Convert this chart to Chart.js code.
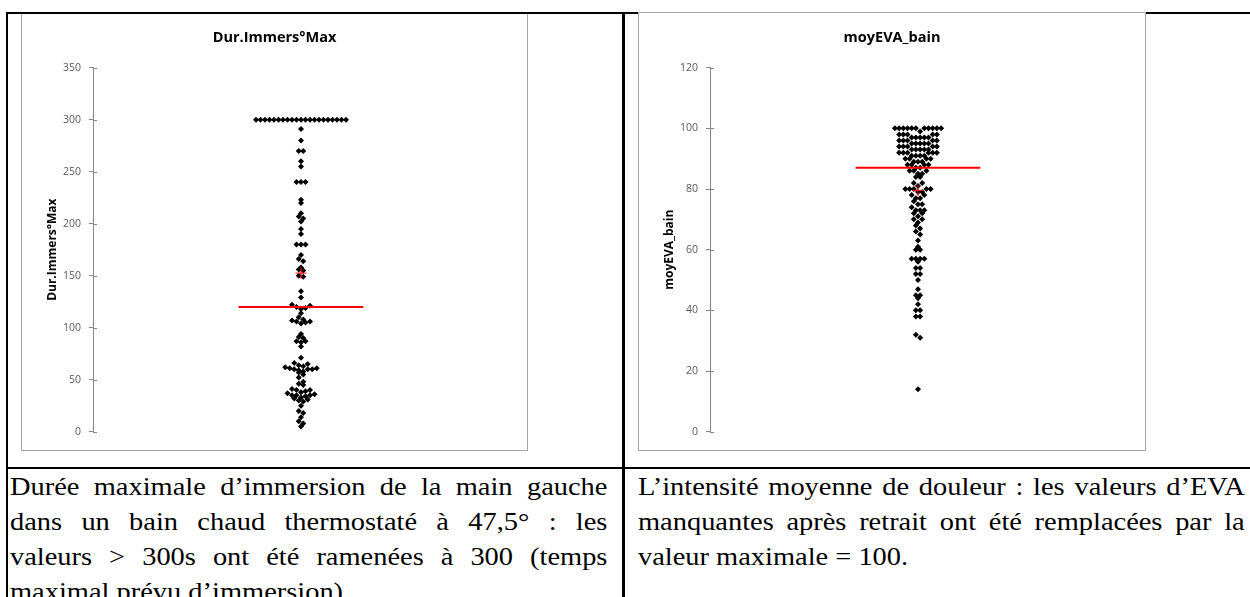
<!DOCTYPE html>
<html lang="fr">
<head>
<meta charset="utf-8">
<title>Dur.Immers°Max / moyEVA_bain</title>
<script src="https://cdn.jsdelivr.net/npm/chart.js@4.4.1/dist/chart.umd.min.js"></script>
<style>
  html, body { margin: 0; padding: 0; background: #fff; }
  body { width: 1250px; height: 597px; position: relative; overflow: hidden; }
  .rule { position: absolute; background: #000; z-index: 2; }
  .box { position: absolute; border: 1px solid #a6a6a6; box-sizing: border-box; background: #fff; z-index: 1; }
  .box.front { z-index: 3; }
  .box canvas { position: absolute; left: 0; top: 0; }
  .cell { position: absolute; top: 469px; font-family: "Liberation Serif", "Times New Roman", serif; font-size: 24.5px; line-height: 35px; color: #000; transform: scaleX(1.16); transform-origin: 0 0; }
  .cell div { text-align: justify; text-align-last: justify; white-space: nowrap; }
  .cell div.last { text-align-last: left; }
</style>
</head>
<body>
<div class="rule" style="left:6px; top:12px; width:1244px; height:2px;"></div>
<div class="rule" style="left:6px; top:12px; width:2px; height:585px;"></div>
<div class="rule" style="left:622px; top:12px; width:3px; height:585px;"></div>
<div class="rule" style="left:6px; top:467px; width:1244px; height:2px;"></div>

<div class="box" style="left:21px; top:12px; width:507px; height:439px;">
  <canvas id="durChart" width="505" height="437"></canvas>
</div>
<div class="box front" style="left:638px; top:12px; width:508px; height:439px;">
  <canvas id="evaChart" width="506" height="437"></canvas>
</div>

<div class="cell" style="left:10px; width:515px;">
  <div>Durée maximale d’immersion de la main gauche</div>
  <div>dans un bain chaud thermostaté à 47,5° : les</div>
  <div>valeurs &gt; 300s ont été ramenées à 300 (temps</div>
  <div class="last">maximal prévu d’immersion).</div>
</div>
<div class="cell" style="left:638px; width:523px;">
  <div>L’intensité moyenne de douleur : les valeurs d’EVA</div>
  <div>manquantes après retrait ont été remplacées par la</div>
  <div class="last">valeur maximale = 100.</div>
</div>

<script>
const durValues = [
  300, 300, 300, 300, 300, 300, 300, 300, 300, 300, 300,
  300, 300, 300, 300, 300, 300, 300, 300, 300, 300,
  291, 280, 270, 270, 260, 255, 240, 240, 240, 223, 220,
  210, 207, 205, 202, 195, 190, 180, 180, 180, 170, 166, 164,
  158, 156, 155, 150, 149, 135, 129,
  122, 121, 120, 119, 118,
  114, 110, 108, 107, 106, 106, 105, 104,
  94, 91, 90, 87, 87, 86, 82, 71,
  66, 65, 64, 63, 62, 61, 61, 60, 60, 60, 59, 58, 57, 55,
  52, 48, 46, 45,
  41, 40, 40, 39, 38, 37, 36, 35, 35, 35, 34, 33, 32, 31, 30, 29,
  25, 20, 18, 14, 10, 8, 5
];
const durTicks = [0, 50, 100, 150, 200, 250, 300, 350];
const durMedian = 120;
const durMean = 152.5;

const evaValues = [
  100, 100, 100, 100, 100, 100, 100, 100, 100, 100, 100, 99,
  98, 98, 98, 98, 98, 97, 97, 97, 97, 97,
  96, 96, 96, 96, 96, 95, 95, 95, 95, 95,
  94, 94, 94, 94, 94, 93, 93, 93, 93, 93,
  92, 92, 92, 92, 92, 92, 91, 91, 91, 91,
  90, 90, 90, 90, 89, 89, 89,
  88, 88, 88, 88, 87, 87,
  86, 86, 86, 85, 85, 84, 84,
  82, 82, 81, 80, 80, 80, 80, 80, 79, 79,
  78, 78, 77, 77, 76, 75, 75,
  74, 73, 73, 73, 72, 72, 71, 70, 70, 69,
  68, 67, 66, 65, 63, 61, 60, 60,
  57, 57, 57, 57, 56, 54, 54, 52, 52, 50, 47, 45, 45, 44, 42,
  40, 40, 38, 38, 32, 31, 14
];
const evaTicks = [0, 20, 40, 60, 80, 100, 120];
const evaMedian = 87;
const evaMean = 79.5;

const axisGrey = '#868686';
const labelGrey = '#595959';
const axisWidth = 71;     // place réservée à gauche de l'axe
const pxPerX = 208;       // largeur d'une unité sur l'axe horizontal caché

// petites graduations qui traversent l'axe (côté intérieur)
const crossTicks = {
  id: 'crossTicks',
  afterDraw(chart) {
    const y = chart.scales.y;
    const ctx = chart.ctx;
    ctx.save();
    ctx.strokeStyle = axisGrey;
    ctx.lineWidth = 1;
    y.ticks.forEach(t => {
      const py = Math.round(y.getPixelForValue(t.value)) + 0.5;
      ctx.beginPath();
      ctx.moveTo(y.right, py);
      ctx.lineTo(y.right + 4, py);
      ctx.stroke();
    });
    ctx.restore();
  }
};

function makeChart(id, title, values, ticks, median, mean) {
  return new Chart(document.getElementById(id), {
    type: 'scatter',
    data: {
      datasets: [
        {
          data: [{ x: -0.3, y: median }, { x: 0.3, y: median }],
          showLine: true,
          borderColor: '#ff0000',
          borderWidth: 2,
          pointRadius: 0,
          order: 0
        },
        {
          data: [{ x: 0, y: mean }],
          pointStyle: 'cross',
          pointRadius: 5.5,
          borderColor: '#ff0000',
          borderWidth: 1,
          order: 1
        },
        {
          data: values.map(v => ({ x: 0, y: v })),
          pointStyle: 'rectRot',
          pointRadius: 3,
          backgroundColor: '#000',
          borderColor: '#000',
          borderWidth: 0,
          order: 2
        }
      ]
    },
    options: {
      responsive: false,
      animation: false,
      events: [],
      layout: { padding: { top: 0, right: 0, bottom: 18.3, left: 0 } },
      plugins: {
        legend: { display: false },
        tooltip: { enabled: false },
        title: {
          display: true,
          text: title,
          color: '#000',
          font: { family: 'Open Sans', size: 14.5, weight: 'bold', lineHeight: 1.2 },
          padding: { top: 15.8, bottom: 21.5 }
        }
      },
      scales: {
        x: { type: 'linear', min: -1, max: 1, display: false },
        y: {
          min: ticks[0],
          max: ticks[ticks.length - 1],
          afterBuildTicks: s => { s.ticks = ticks.map(v => ({ value: v })); },
          afterFit: s => { s.width = axisWidth; },
          border: { display: true, color: axisGrey, width: 1 },
          grid: { drawOnChartArea: false, drawTicks: true, tickLength: 4, color: axisGrey },
          ticks: { color: labelGrey, padding: 8, font: { family: 'Open Sans', size: 10.5 } },
          title: {
            display: true,
            text: title,
            color: '#000',
            font: { family: 'Open Sans', size: 12, weight: 'bold' },
            padding: { top: 23 }
          }
        }
      }
    },
    plugins: [crossTicks]
  });
}

// l'axe horizontal caché : une unité = pxPerX pixels, zéro à pxPerX de l'axe vertical
function fitX(chart) {
  const a = chart.chartArea;
  chart.options.scales.x.max = (a.right - a.left) / pxPerX - 1;
  chart.update('none');
}

// diagramme en points : les valeurs d'une même classe sont alignées
// horizontalement, la plus petite au centre, les autres vers l'extérieur
function placeDots(chart, values, binSize, binShift, spacing) {
  const xs = chart.scales.x;
  const cx = xs.getPixelForValue(0);
  const bins = {};
  values.forEach((v, i) => {
    const b = Math.floor((v + binShift) / binSize);
    (bins[b] = bins[b] || []).push(i);
  });
  const pts = new Array(values.length);
  Object.values(bins).forEach(idx => {
    idx.sort((a, b) => values[a] - values[b]);
    const n = idx.length;
    const slots = [];
    for (let j = 0; j < n; j++) slots.push((j - (n - 1) / 2) * spacing);
    slots.sort((a, b) => Math.abs(a) - Math.abs(b) || b - a);
    idx.forEach((i, k) => {
      pts[i] = { x: xs.getValueForPixel(cx + slots[k]), y: values[i] };
    });
  });
  chart.data.datasets[2].data = pts;
  chart.update('none');
}

const durChart = makeChart('durChart', 'Dur.Immers°Max', durValues, durTicks, durMedian, durMean);
const evaChart = makeChart('evaChart', 'moyEVA_bain', evaValues, evaTicks, evaMedian, evaMean);
fitX(durChart);
fitX(evaChart);
placeDots(durChart, durValues, 5, 2.5, 4.5);
placeDots(evaChart, evaValues, 2, 1, 4.2);
</script>
</body>
</html>
